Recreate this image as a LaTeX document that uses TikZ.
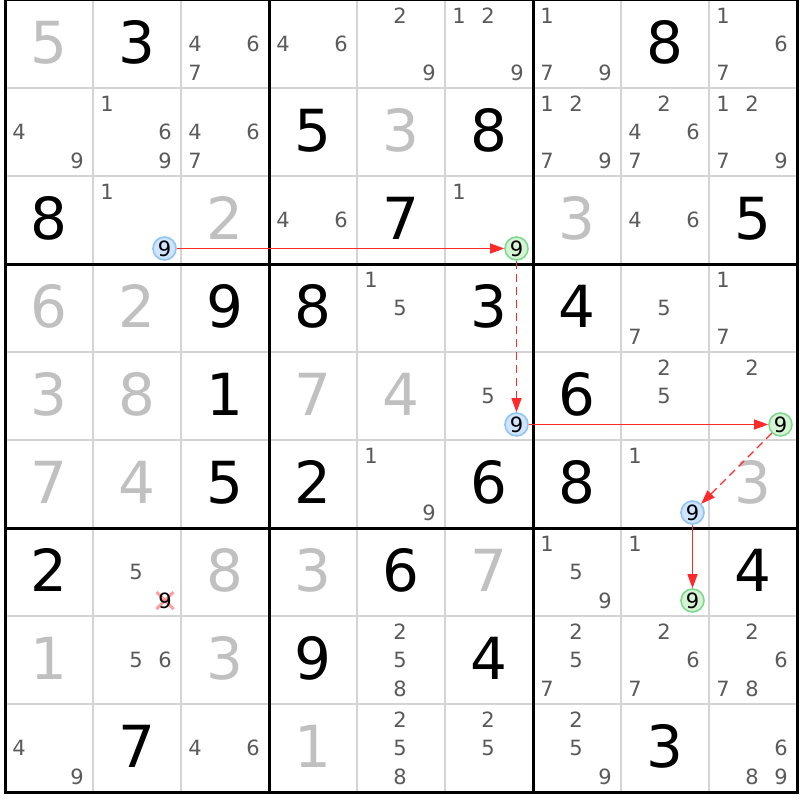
\documentclass[tikz,border=0pt]{standalone}
\usepackage{fontspec}
\setmainfont{DejaVu Sans}
\usetikzlibrary{arrows.meta}
\definecolor{givencol}{HTML}{C0C0C0}
\definecolor{candcol}{HTML}{5A5A5A}
\definecolor{thincol}{HTML}{D4D4D4}
\definecolor{bluefill}{HTML}{CFE5FF}
\definecolor{bluedraw}{HTML}{90C4F4}
\definecolor{greenfill}{HTML}{D4F4D4}
\definecolor{greendraw}{HTML}{80D890}
\definecolor{linkred}{HTML}{FF2A2A}
\definecolor{crosscol}{HTML}{FF8080}
\newcommand{\sdkG}[3]{\node[givendig] (g-#1-#2) at ({5+88*#2+44},{88*#1+63.5}) {#3};}
\newcommand{\sdkP}[3]{\node[placeddig] (p-#1-#2) at ({5+88*#2+44},{88*#1+63.5}) {#3};}
\newcommand{\sdkC}[3]{\foreach \d in {#3}{%
  \pgfmathtruncatemacro\kx{mod(\d-1,3)}%
  \pgfmathtruncatemacro\ky{floor((\d-1)/3)}%
  \node[canddig] (k-#1-#2-\d) at ({5+88*#2+14+29*\kx},{88*#1+23.6+28.3*\ky}) {\d};}}
\begin{document}
\begin{tikzpicture}[x=1pt,y=-1pt,
  big/.style={anchor=base, inner sep=0pt, font=\fontsize{58}{60}\selectfont},
  givendig/.style={big, text=givencol},
  placeddig/.style={big, text=black},
  canddig/.style={anchor=base, inner sep=0pt, font=\fontsize{21}{23}\selectfont, text=candcol},
  hilite/.style={circle, inner sep=0pt, minimum size=23pt, line width=1.6pt, font=\fontsize{21}{23}\selectfont, text=black},
  onblue/.style={hilite, fill=bluefill, draw=bluedraw},
  ongreen/.style={hilite, fill=greenfill, draw=greendraw},
  link/.style={draw=linkred, line width=1.2pt, -{Triangle[length=14pt,width=10pt]}},
  weak/.style={link, dash pattern=on 8pt off 5pt},
  thinline/.style={draw=thincol, line width=2pt},
  thickline/.style={draw=black, line width=3pt}
]
\useasboundingbox (0,0) rectangle (800,800);
\fill[white] (0,0) rectangle (800,800);
% grid
\foreach \i in {1,2,4,5,7,8}{
  \draw[thinline] ({5+88*\i},0) -- ({5+88*\i},792);
  \draw[thinline] (5,{88*\i}) -- (797,{88*\i});
}
\foreach \i in {3,6}{
  \draw[thickline] ({5+88*\i},0) -- ({5+88*\i},792);
  \draw[thickline] (5,{88*\i}) -- (797,{88*\i});
}
\draw[thickline] (5,0) rectangle (797,792);

% row 0
\sdkG{0}{0}{5}\sdkP{0}{1}{3}\sdkC{0}{2}{4,6,7}\sdkC{0}{3}{4,6}\sdkC{0}{4}{2,9}
\sdkC{0}{5}{1,2,9}\sdkC{0}{6}{1,7,9}\sdkP{0}{7}{8}\sdkC{0}{8}{1,6,7}
% row 1
\sdkC{1}{0}{4,9}\sdkC{1}{1}{1,6,9}\sdkC{1}{2}{4,6,7}\sdkP{1}{3}{5}\sdkG{1}{4}{3}
\sdkP{1}{5}{8}\sdkC{1}{6}{1,2,7,9}\sdkC{1}{7}{2,4,6,7}\sdkC{1}{8}{1,2,7,9}
% row 2
\sdkP{2}{0}{8}\sdkC{2}{1}{1}\sdkG{2}{2}{2}\sdkC{2}{3}{4,6}\sdkP{2}{4}{7}
\sdkC{2}{5}{1}\sdkG{2}{6}{3}\sdkC{2}{7}{4,6}\sdkP{2}{8}{5}
% row 3
\sdkG{3}{0}{6}\sdkG{3}{1}{2}\sdkP{3}{2}{9}\sdkP{3}{3}{8}\sdkC{3}{4}{1,5}
\sdkP{3}{5}{3}\sdkP{3}{6}{4}\sdkC{3}{7}{5,7}\sdkC{3}{8}{1,7}
% row 4
\sdkG{4}{0}{3}\sdkG{4}{1}{8}\sdkP{4}{2}{1}\sdkG{4}{3}{7}\sdkG{4}{4}{4}
\sdkC{4}{5}{5}\sdkP{4}{6}{6}\sdkC{4}{7}{2,5}\sdkC{4}{8}{2}
% row 5
\sdkG{5}{0}{7}\sdkG{5}{1}{4}\sdkP{5}{2}{5}\sdkP{5}{3}{2}\sdkC{5}{4}{1,9}
\sdkP{5}{5}{6}\sdkP{5}{6}{8}\sdkC{5}{7}{1}\sdkG{5}{8}{3}
% row 6
\sdkP{6}{0}{2}\sdkC{6}{1}{5}\sdkG{6}{2}{8}\sdkG{6}{3}{3}\sdkP{6}{4}{6}
\sdkG{6}{5}{7}\sdkC{6}{6}{1,5,9}\sdkC{6}{7}{1}\sdkP{6}{8}{4}
% row 7
\sdkG{7}{0}{1}\sdkC{7}{1}{5,6}\sdkG{7}{2}{3}\sdkP{7}{3}{9}\sdkC{7}{4}{2,5,8}
\sdkP{7}{5}{4}\sdkC{7}{6}{2,5,7}\sdkC{7}{7}{2,6,7}\sdkC{7}{8}{2,6,7,8}
% row 8
\sdkC{8}{0}{4,9}\sdkP{8}{1}{7}\sdkC{8}{2}{4,6}\sdkG{8}{3}{1}\sdkC{8}{4}{2,5,8}
\sdkC{8}{5}{2,5}\sdkC{8}{6}{2,5,9}\sdkP{8}{7}{3}\sdkC{8}{8}{6,8,9}

% eliminated candidate
\coordinate (xc) at ({5+88+72},{528+72.5});
\draw[crosscol, line width=3pt, opacity=0.75] ([shift={(-8.5,-8.5)}]xc) -- ([shift={(8.5,8.5)}]xc);
\draw[crosscol, line width=3pt, opacity=0.75] ([shift={(8.5,-8.5)}]xc) -- ([shift={(-8.5,8.5)}]xc);
\node[canddig, text=black, anchor=center] (x9) at (xc) {9};

% chain nodes
\node[onblue]  (b1) at ({5+88*1+71.5},{88*2+72.5}) {9};
\node[ongreen] (g1) at ({5+88*5+71.5},{88*2+72.5}) {9};
\node[onblue]  (b2) at ({5+88*5+71.5},{88*4+72.5}) {9};
\node[ongreen] (g2) at ({5+88*8+71.5},{88*4+72.5}) {9};
\node[onblue]  (b3) at ({5+88*7+71.5},{88*5+72.5}) {9};
\node[ongreen] (g3) at ({5+88*7+71.5},{88*6+72.5}) {9};

% links
\draw[link] (b1) -- (g1);
\draw[weak] (g1) -- (b2);
\draw[link] (b2) -- (g2);
\draw[weak] (g2) -- (b3);
\draw[link] (b3) -- (g3);
\end{tikzpicture}
\end{document}
